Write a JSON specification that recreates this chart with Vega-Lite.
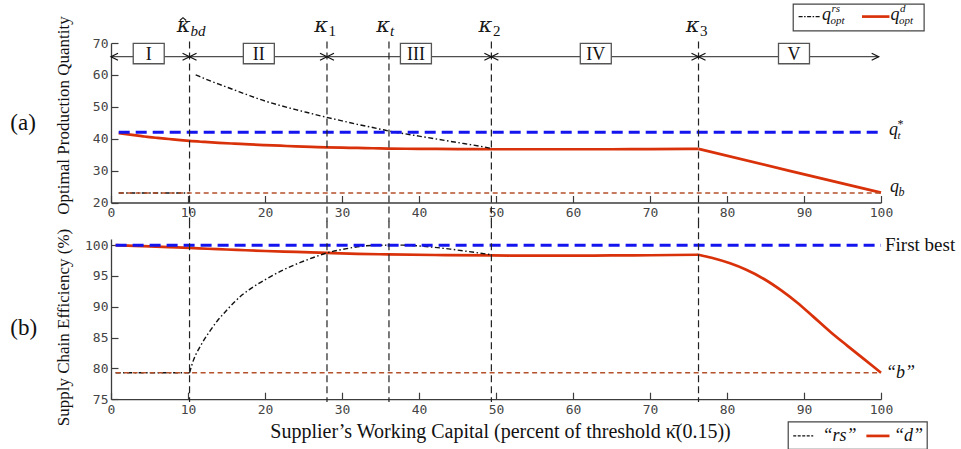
{
  "$schema": "https://vega.github.io/schema/vega-lite/v6.json",
  "autosize": {"type": "pad"},
  "padding": {"left": 10, "top": 2, "right": 0, "bottom": 0},
  "background": "white",
  "bounds": "flush",
  "spacing": 36,
  "datasets": {
    "curves": [
      {"panel": "a", "series": "d", "seg": 1, "x": 1, "y": 41.7},
      {"panel": "a", "series": "d", "seg": 1, "x": 2, "y": 41.4},
      {"panel": "a", "series": "d", "seg": 1, "x": 3, "y": 41.1},
      {"panel": "a", "series": "d", "seg": 1, "x": 4, "y": 40.8},
      {"panel": "a", "series": "d", "seg": 1, "x": 5, "y": 40.5},
      {"panel": "a", "series": "d", "seg": 1, "x": 6, "y": 40.25},
      {"panel": "a", "series": "d", "seg": 1, "x": 7.5, "y": 39.9},
      {"panel": "a", "series": "d", "seg": 1, "x": 9, "y": 39.55},
      {"panel": "a", "series": "d", "seg": 1, "x": 10.2, "y": 39.3},
      {"panel": "a", "series": "d", "seg": 1, "x": 12, "y": 39.0},
      {"panel": "a", "series": "d", "seg": 1, "x": 14, "y": 38.7},
      {"panel": "a", "series": "d", "seg": 1, "x": 16, "y": 38.45},
      {"panel": "a", "series": "d", "seg": 1, "x": 18, "y": 38.2},
      {"panel": "a", "series": "d", "seg": 1, "x": 20, "y": 38.0},
      {"panel": "a", "series": "d", "seg": 1, "x": 22, "y": 37.8},
      {"panel": "a", "series": "d", "seg": 1, "x": 24, "y": 37.6},
      {"panel": "a", "series": "d", "seg": 1, "x": 26, "y": 37.45},
      {"panel": "a", "series": "d", "seg": 1, "x": 28, "y": 37.3},
      {"panel": "a", "series": "d", "seg": 1, "x": 30, "y": 37.2},
      {"panel": "a", "series": "d", "seg": 1, "x": 32, "y": 37.1},
      {"panel": "a", "series": "d", "seg": 1, "x": 34, "y": 37.0},
      {"panel": "a", "series": "d", "seg": 1, "x": 36, "y": 36.9},
      {"panel": "a", "series": "d", "seg": 1, "x": 40, "y": 36.82},
      {"panel": "a", "series": "d", "seg": 1, "x": 45, "y": 36.74},
      {"panel": "a", "series": "d", "seg": 1, "x": 49.4, "y": 36.7},
      {"panel": "a", "series": "d", "seg": 1, "x": 55, "y": 36.69},
      {"panel": "a", "series": "d", "seg": 1, "x": 60, "y": 36.69},
      {"panel": "a", "series": "d", "seg": 1, "x": 65, "y": 36.7},
      {"panel": "a", "series": "d", "seg": 1, "x": 70, "y": 36.73},
      {"panel": "a", "series": "d", "seg": 1, "x": 76.3, "y": 36.8},
      {"panel": "a", "series": "d", "seg": 2, "x": 76.3, "y": 36.8},
      {"panel": "a", "series": "d", "seg": 2, "x": 88, "y": 30.0},
      {"panel": "a", "series": "d", "seg": 2, "x": 100, "y": 23.1},
      {"panel": "a", "series": "rs", "seg": 1, "x": 1, "y": 23},
      {"panel": "a", "series": "rs", "seg": 1, "x": 10.2, "y": 23},
      {"panel": "a", "series": "rs", "seg": 2, "x": 11, "y": 60},
      {"panel": "a", "series": "rs", "seg": 2, "x": 12, "y": 59.0},
      {"panel": "a", "series": "rs", "seg": 2, "x": 13, "y": 58.0},
      {"panel": "a", "series": "rs", "seg": 2, "x": 14, "y": 57.1},
      {"panel": "a", "series": "rs", "seg": 2, "x": 16, "y": 55.3},
      {"panel": "a", "series": "rs", "seg": 2, "x": 18, "y": 53.5},
      {"panel": "a", "series": "rs", "seg": 2, "x": 20, "y": 51.8},
      {"panel": "a", "series": "rs", "seg": 2, "x": 22, "y": 50.4},
      {"panel": "a", "series": "rs", "seg": 2, "x": 24, "y": 49.1},
      {"panel": "a", "series": "rs", "seg": 2, "x": 26, "y": 47.9},
      {"panel": "a", "series": "rs", "seg": 2, "x": 28, "y": 46.7},
      {"panel": "a", "series": "rs", "seg": 2, "x": 30, "y": 45.6},
      {"panel": "a", "series": "rs", "seg": 2, "x": 32, "y": 44.5},
      {"panel": "a", "series": "rs", "seg": 2, "x": 34, "y": 43.5},
      {"panel": "a", "series": "rs", "seg": 2, "x": 36.1, "y": 42.4},
      {"panel": "a", "series": "rs", "seg": 2, "x": 38, "y": 41.6},
      {"panel": "a", "series": "rs", "seg": 2, "x": 40, "y": 40.8},
      {"panel": "a", "series": "rs", "seg": 2, "x": 42, "y": 40.0},
      {"panel": "a", "series": "rs", "seg": 2, "x": 44, "y": 39.2},
      {"panel": "a", "series": "rs", "seg": 2, "x": 46, "y": 38.4},
      {"panel": "a", "series": "rs", "seg": 2, "x": 48, "y": 37.6},
      {"panel": "a", "series": "rs", "seg": 2, "x": 49.4, "y": 36.95},
      {"panel": "b", "series": "d", "seg": 1, "x": 0.6, "y": 100},
      {"panel": "b", "series": "d", "seg": 1, "x": 3, "y": 99.9},
      {"panel": "b", "series": "d", "seg": 1, "x": 5, "y": 99.8},
      {"panel": "b", "series": "d", "seg": 1, "x": 7.5, "y": 99.68},
      {"panel": "b", "series": "d", "seg": 1, "x": 10.2, "y": 99.56},
      {"panel": "b", "series": "d", "seg": 1, "x": 12.5, "y": 99.42},
      {"panel": "b", "series": "d", "seg": 1, "x": 15, "y": 99.3},
      {"panel": "b", "series": "d", "seg": 1, "x": 17.5, "y": 99.17},
      {"panel": "b", "series": "d", "seg": 1, "x": 20, "y": 99.05},
      {"panel": "b", "series": "d", "seg": 1, "x": 24, "y": 98.9},
      {"panel": "b", "series": "d", "seg": 1, "x": 28, "y": 98.75},
      {"panel": "b", "series": "d", "seg": 1, "x": 32, "y": 98.6},
      {"panel": "b", "series": "d", "seg": 1, "x": 36, "y": 98.5},
      {"panel": "b", "series": "d", "seg": 1, "x": 42, "y": 98.4},
      {"panel": "b", "series": "d", "seg": 1, "x": 49.4, "y": 98.33},
      {"panel": "b", "series": "d", "seg": 1, "x": 55, "y": 98.31},
      {"panel": "b", "series": "d", "seg": 1, "x": 60, "y": 98.31},
      {"panel": "b", "series": "d", "seg": 1, "x": 65, "y": 98.33},
      {"panel": "b", "series": "d", "seg": 1, "x": 70, "y": 98.36},
      {"panel": "b", "series": "d", "seg": 1, "x": 76.3, "y": 98.45},
      {"panel": "b", "series": "d", "seg": 2, "x": 76.3, "y": 98.45},
      {"panel": "b", "series": "d", "seg": 2, "x": 78, "y": 97.95},
      {"panel": "b", "series": "d", "seg": 2, "x": 80.4, "y": 97.05},
      {"panel": "b", "series": "d", "seg": 2, "x": 82.5, "y": 96.0},
      {"panel": "b", "series": "d", "seg": 2, "x": 84.75, "y": 94.55},
      {"panel": "b", "series": "d", "seg": 2, "x": 87, "y": 92.7},
      {"panel": "b", "series": "d", "seg": 2, "x": 89.1, "y": 90.7},
      {"panel": "b", "series": "d", "seg": 2, "x": 91.2, "y": 88.4},
      {"panel": "b", "series": "d", "seg": 2, "x": 93.4, "y": 85.95},
      {"panel": "b", "series": "d", "seg": 2, "x": 95.6, "y": 83.7},
      {"panel": "b", "series": "d", "seg": 2, "x": 97.8, "y": 81.5},
      {"panel": "b", "series": "d", "seg": 2, "x": 100, "y": 79.3},
      {"panel": "b", "series": "rs", "seg": 1, "x": 0.6, "y": 79.3},
      {"panel": "b", "series": "rs", "seg": 1, "x": 10.2, "y": 79.3},
      {"panel": "b", "series": "rs", "seg": 2, "x": 10.2, "y": 79.3},
      {"panel": "b", "series": "rs", "seg": 2, "x": 10.7, "y": 81.3},
      {"panel": "b", "series": "rs", "seg": 2, "x": 11.6, "y": 83.6},
      {"panel": "b", "series": "rs", "seg": 2, "x": 12.7, "y": 85.8},
      {"panel": "b", "series": "rs", "seg": 2, "x": 13.8, "y": 87.7},
      {"panel": "b", "series": "rs", "seg": 2, "x": 15, "y": 89.4},
      {"panel": "b", "series": "rs", "seg": 2, "x": 15.9, "y": 90.6},
      {"panel": "b", "series": "rs", "seg": 2, "x": 17, "y": 91.9},
      {"panel": "b", "series": "rs", "seg": 2, "x": 18.1, "y": 92.9},
      {"panel": "b", "series": "rs", "seg": 2, "x": 19.2, "y": 93.8},
      {"panel": "b", "series": "rs", "seg": 2, "x": 20.3, "y": 94.6},
      {"panel": "b", "series": "rs", "seg": 2, "x": 22.4, "y": 96.0},
      {"panel": "b", "series": "rs", "seg": 2, "x": 24.6, "y": 97.2},
      {"panel": "b", "series": "rs", "seg": 2, "x": 26.3, "y": 98.0},
      {"panel": "b", "series": "rs", "seg": 2, "x": 28.05, "y": 98.75},
      {"panel": "b", "series": "rs", "seg": 2, "x": 30, "y": 99.3},
      {"panel": "b", "series": "rs", "seg": 2, "x": 31.1, "y": 99.55},
      {"panel": "b", "series": "rs", "seg": 2, "x": 33.2, "y": 99.9},
      {"panel": "b", "series": "rs", "seg": 2, "x": 36.1, "y": 100.0},
      {"panel": "b", "series": "rs", "seg": 2, "x": 38, "y": 100.0},
      {"panel": "b", "series": "rs", "seg": 2, "x": 39.7, "y": 99.9},
      {"panel": "b", "series": "rs", "seg": 2, "x": 42, "y": 99.65},
      {"panel": "b", "series": "rs", "seg": 2, "x": 44.1, "y": 99.35},
      {"panel": "b", "series": "rs", "seg": 2, "x": 46.5, "y": 98.95},
      {"panel": "b", "series": "rs", "seg": 2, "x": 49.4, "y": 98.45}
    ],
    "levels": [
      {"panel": "a", "kind": "best", "level": 42, "from": 1, "to": 100},
      {"panel": "a", "kind": "base", "level": 23, "from": 1, "to": 100},
      {"panel": "b", "kind": "best", "level": 100, "from": 0.6, "to": 100},
      {"panel": "b", "kind": "base", "level": 79.3, "from": 0.6, "to": 100}
    ],
    "kappas": [
      {"k": 10.2, "sub": "bd"},
      {"k": 28.05, "sub": "1"},
      {"k": 36.1, "sub": "t"},
      {"k": 49.4, "sub": "2"},
      {"k": 76.3, "sub": "3"}
    ],
    "regions": [
      {"region": "I", "from": 0, "to": 10.2, "mid": 4.9},
      {"region": "II", "from": 10.2, "to": 28.05, "mid": 19.2},
      {"region": "III", "from": 28.05, "to": 49.4, "mid": 39.6},
      {"region": "IV", "from": 49.4, "to": 76.3, "mid": 62.96},
      {"region": "V", "from": 76.3, "to": 99.7, "mid": 88.7}
    ],
    "one": [{}]
  },
  "vconcat": [
    {
      "width": 770,
      "height": 159.5,
      "layer": [
        {
          "data": {"name": "curves"},
          "transform": [{"filter": "datum.panel === 'a' && datum.series === 'd'"}],
          "mark": {"type": "line", "color": "#d9320b", "strokeWidth": 2.7, "interpolate": "monotone"},
          "encoding": {
            "x": {"field": "x", "type": "quantitative", "scale": {"domain": [0, 100], "nice": false},
                  "axis": {"values": [0, 10, 20, 30, 40, 50, 60, 70, 80, 90, 100], "tickCount": 20, "title": null, "labelOverlap": false}},
            "y": {"field": "y", "type": "quantitative", "scale": {"domain": [20, 70], "nice": false, "zero": false},
                  "axis": {"values": [20, 30, 40, 50, 60, 70], "tickCount": 20, "labelOverlap": false, "title": "Optimal Production Quantity",
                           "titleX": -43, "titleY": 72, "titleBaseline": "alphabetic"}},
            "detail": {"field": "seg"}
          }
        },
        {
          "data": {"name": "curves"},
          "transform": [{"filter": "datum.panel === 'a' && datum.series === 'rs'"}],
          "mark": {"type": "line", "color": "#111111", "strokeWidth": 1.4, "strokeDash": [5, 2.5, 1.5, 2.5], "interpolate": "monotone"},
          "encoding": {
            "x": {"field": "x", "type": "quantitative"},
            "y": {"field": "y", "type": "quantitative"},
            "detail": {"field": "seg"}
          }
        },
        {
          "data": {"name": "levels"},
          "transform": [{"filter": "datum.panel === 'a' && datum.kind === 'best'"}],
          "mark": {"type": "rule", "color": "#1414ee", "strokeWidth": 3, "strokeDash": [11, 6]},
          "encoding": {
            "x": {"field": "from", "type": "quantitative"},
            "x2": {"field": "to"},
            "y": {"field": "level", "type": "quantitative"}
          }
        },
        {
          "data": {"name": "levels"},
          "transform": [{"filter": "datum.panel === 'a' && datum.kind === 'base'"}],
          "mark": {"type": "rule", "color": "#b4502a", "strokeWidth": 1.4, "strokeDash": [5, 3.5]},
          "encoding": {
            "x": {"field": "from", "type": "quantitative"},
            "x2": {"field": "to"},
            "y": {"field": "level", "type": "quantitative"}
          }
        },
        {
          "data": {"name": "kappas"},
          "mark": {"type": "rule", "color": "#222222", "strokeWidth": 1.2, "strokeDash": [7, 4]},
          "encoding": {
            "x": {"field": "k", "type": "quantitative"},
            "y": {"datum": 70.44, "type": "quantitative"},
            "y2": {"datum": 14.0}
          }
        },
        {
          "data": {"name": "regions"},
          "mark": {"type": "rule", "color": "#222222", "strokeWidth": 1},
          "encoding": {
            "x": {"field": "from", "type": "quantitative"},
            "x2": {"field": "to"},
            "y": {"datum": 65.7, "type": "quantitative"}
          }
        },
        {
          "data": {"name": "regions"},
          "mark": {"type": "point", "shape": "M2,-1L0,0L2,1", "filled": false, "size": 49, "stroke": "#111111", "strokeWidth": 1.2, "opacity": 1},
          "encoding": {
            "x": {"field": "from", "type": "quantitative"},
            "y": {"datum": 65.7, "type": "quantitative"}
          }
        },
        {
          "data": {"name": "regions"},
          "mark": {"type": "point", "shape": "M-2,-1L0,0L-2,1", "filled": false, "size": 49, "stroke": "#111111", "strokeWidth": 1.2, "opacity": 1},
          "encoding": {
            "x": {"field": "to", "type": "quantitative"},
            "y": {"datum": 65.7, "type": "quantitative"}
          }
        },
        {
          "data": {"name": "regions"},
          "mark": {"type": "point", "shape": "M-1,-0.66L1,-0.66L1,0.66L-1,0.66Z", "filled": true, "fill": "white", "stroke": "#555555", "strokeWidth": 1.3, "size": 961, "opacity": 1},
          "encoding": {
            "x": {"field": "mid", "type": "quantitative"},
            "y": {"datum": 66.7, "type": "quantitative"}
          }
        },
        {
          "data": {"name": "regions"},
          "mark": {"type": "text", "font": "Liberation Serif", "fontSize": 18, "baseline": "middle", "align": "center", "color": "#111111", "dy": 1},
          "encoding": {
            "x": {"field": "mid", "type": "quantitative"},
            "y": {"datum": 66.7, "type": "quantitative"},
            "text": {"field": "region"}
          }
        },
        {
          "data": {"name": "kappas"},
          "mark": {"type": "text", "text": "κ", "font": "DejaVu Serif", "fontStyle": "italic", "fontSize": 21, "align": "right", "baseline": "alphabetic", "dx": 1, "color": "#1a1a1a"},
          "encoding": {
            "x": {"field": "k", "type": "quantitative"},
            "y": {"datum": 73.35, "type": "quantitative"}
          }
        },
        {
          "data": {"name": "one"},
          "mark": {"type": "point", "shape": "M-1,0.45L0,-0.45L1,0.45", "filled": false, "size": 40, "stroke": "#111111", "strokeWidth": 1.1, "opacity": 1},
          "encoding": {
            "x": {"datum": 9.35, "type": "quantitative"},
            "y": {"datum": 77.5, "type": "quantitative"}
          }
        },
        {
          "data": {"name": "kappas"},
          "transform": [{"filter": "isNaN(toNumber(datum.sub))"}],
          "mark": {"type": "text", "font": "Liberation Serif", "fontStyle": "italic", "fontSize": 15, "align": "left", "baseline": "alphabetic", "dx": 1, "dy": 3.6, "color": "#111111"},
          "encoding": {
            "x": {"field": "k", "type": "quantitative"},
            "y": {"datum": 73.35, "type": "quantitative"},
            "text": {"field": "sub"}
          }
        },
        {
          "data": {"name": "kappas"},
          "transform": [{"filter": "!isNaN(toNumber(datum.sub))"}],
          "mark": {"type": "text", "font": "Liberation Serif", "fontSize": 15, "align": "left", "baseline": "alphabetic", "dx": 1.5, "dy": 3.6, "color": "#111111"},
          "encoding": {
            "x": {"field": "k", "type": "quantitative"},
            "y": {"datum": 73.35, "type": "quantitative"},
            "text": {"field": "sub"}
          }
        },
        {
          "data": {"name": "one"},
          "mark": {"type": "text", "text": "q", "font": "Liberation Serif", "fontStyle": "italic", "fontSize": 18, "align": "left", "baseline": "alphabetic", "dx": 8, "color": "#111111"},
          "encoding": {"x": {"datum": 100, "type": "quantitative"}, "y": {"datum": 41.3, "type": "quantitative"}}
        },
        {
          "data": {"name": "one"},
          "mark": {"type": "text", "text": "t", "font": "Liberation Serif", "fontStyle": "italic", "fontSize": 11, "align": "left", "baseline": "alphabetic", "dx": 16.5, "dy": 4.5, "color": "#111111"},
          "encoding": {"x": {"datum": 100, "type": "quantitative"}, "y": {"datum": 41.3, "type": "quantitative"}}
        },
        {
          "data": {"name": "one"},
          "mark": {"type": "text", "text": "*", "font": "Liberation Serif", "fontSize": 12, "align": "left", "baseline": "alphabetic", "dx": 16.5, "dy": -7, "color": "#111111"},
          "encoding": {"x": {"datum": 100, "type": "quantitative"}, "y": {"datum": 41.3, "type": "quantitative"}}
        },
        {
          "data": {"name": "one"},
          "mark": {"type": "text", "text": "q", "font": "Liberation Serif", "fontStyle": "italic", "fontSize": 18, "align": "left", "baseline": "alphabetic", "dx": 9, "color": "#111111"},
          "encoding": {"x": {"datum": 100, "type": "quantitative"}, "y": {"datum": 23.4, "type": "quantitative"}}
        },
        {
          "data": {"name": "one"},
          "mark": {"type": "text", "text": "b", "font": "Liberation Serif", "fontStyle": "italic", "fontSize": 12, "align": "left", "baseline": "alphabetic", "dx": 17.5, "dy": 4, "color": "#111111"},
          "encoding": {"x": {"datum": 100, "type": "quantitative"}, "y": {"datum": 23.4, "type": "quantitative"}}
        },
        {
          "data": {"name": "one"},
          "mark": {"type": "text", "text": "(a)", "font": "Liberation Serif", "fontSize": 23, "align": "left", "baseline": "middle", "color": "#111111"},
          "encoding": {"x": {"datum": -13.08, "type": "quantitative"}, "y": {"datum": 45.05, "type": "quantitative"}}
        },
        {
          "data": {"name": "one"},
          "mark": {"type": "rect", "fill": "white", "stroke": "#444444", "strokeWidth": 1.2},
          "encoding": {
            "x": {"datum": 88.6, "type": "quantitative"}, "x2": {"datum": 105.6},
            "y": {"datum": 73.79, "type": "quantitative"}, "y2": {"datum": 82.19}
          }
        },
        {
          "data": {"name": "one"},
          "mark": {"type": "rule", "color": "#111111", "strokeWidth": 1.4, "strokeDash": [4, 1.5, 1.5, 1.5]},
          "encoding": {
            "x": {"datum": 89.3, "type": "quantitative"}, "x2": {"datum": 92.2},
            "y": {"datum": 78.28, "type": "quantitative"}
          }
        },
        {
          "data": {"name": "one"},
          "mark": {"type": "rule", "color": "#d9320b", "strokeWidth": 2.7},
          "encoding": {
            "x": {"datum": 97.53, "type": "quantitative"}, "x2": {"datum": 101.1},
            "y": {"datum": 78.28, "type": "quantitative"}
          }
        },
        {
          "data": {"name": "one"},
          "mark": {"type": "text", "text": "q", "font": "Liberation Serif", "fontStyle": "italic", "fontSize": 18, "align": "left", "baseline": "alphabetic", "color": "#111111"},
          "encoding": {"x": {"datum": 92.34, "type": "quantitative"}, "y": {"datum": 77.24, "type": "quantitative"}}
        },
        {
          "data": {"name": "one"},
          "mark": {"type": "text", "text": "rs", "font": "Liberation Serif", "fontStyle": "italic", "fontSize": 11, "align": "left", "baseline": "alphabetic", "dx": 9.5, "dy": -8, "color": "#111111"},
          "encoding": {"x": {"datum": 92.34, "type": "quantitative"}, "y": {"datum": 77.24, "type": "quantitative"}}
        },
        {
          "data": {"name": "one"},
          "mark": {"type": "text", "text": "opt", "font": "Liberation Serif", "fontStyle": "italic", "fontSize": 11, "align": "left", "baseline": "alphabetic", "dx": 8.5, "dy": 4, "color": "#111111"},
          "encoding": {"x": {"datum": 92.34, "type": "quantitative"}, "y": {"datum": 77.24, "type": "quantitative"}}
        },
        {
          "data": {"name": "one"},
          "mark": {"type": "text", "text": "q", "font": "Liberation Serif", "fontStyle": "italic", "fontSize": 18, "align": "left", "baseline": "alphabetic", "color": "#111111"},
          "encoding": {"x": {"datum": 101.23, "type": "quantitative"}, "y": {"datum": 77.24, "type": "quantitative"}}
        },
        {
          "data": {"name": "one"},
          "mark": {"type": "text", "text": "d", "font": "Liberation Serif", "fontStyle": "italic", "fontSize": 11, "align": "left", "baseline": "alphabetic", "dx": 9.5, "dy": -8, "color": "#111111"},
          "encoding": {"x": {"datum": 101.23, "type": "quantitative"}, "y": {"datum": 77.24, "type": "quantitative"}}
        },
        {
          "data": {"name": "one"},
          "mark": {"type": "text", "text": "opt", "font": "Liberation Serif", "fontStyle": "italic", "fontSize": 11, "align": "left", "baseline": "alphabetic", "dx": 8.5, "dy": 4, "color": "#111111"},
          "encoding": {"x": {"datum": 101.23, "type": "quantitative"}, "y": {"datum": 77.24, "type": "quantitative"}}
        }
      ]
    },
    {
      "width": 770,
      "height": 160.2,
      "layer": [
        {
          "data": {"name": "curves"},
          "transform": [{"filter": "datum.panel === 'b' && datum.series === 'd'"}],
          "mark": {"type": "line", "color": "#d9320b", "strokeWidth": 2.7, "interpolate": "monotone"},
          "encoding": {
            "x": {"field": "x", "type": "quantitative", "scale": {"domain": [0, 100], "nice": false},
                  "axis": {"values": [0, 10, 20, 30, 40, 50, 60, 70, 80, 90, 100], "tickCount": 20, "labelOverlap": false,
                           "title": "Supplier’s Working Capital (percent of threshold κ̄(0.15))",
                           "titleX": 389, "titleY": 38.7, "titleBaseline": "alphabetic", "titleAlign": "center", "titleFontSize": 20}},
            "y": {"field": "y", "type": "quantitative", "scale": {"domain": [75, 101], "nice": false, "zero": false},
                  "axis": {"values": [75, 80, 85, 90, 95, 100], "tickCount": 20, "labelOverlap": false, "title": "Supply Chain Efficiency (%)",
                           "titleX": -43, "titleY": 88, "titleBaseline": "alphabetic"}},
            "detail": {"field": "seg"}
          }
        },
        {
          "data": {"name": "curves"},
          "transform": [{"filter": "datum.panel === 'b' && datum.series === 'rs'"}],
          "mark": {"type": "line", "color": "#111111", "strokeWidth": 1.4, "strokeDash": [5, 2.5, 1.5, 2.5], "interpolate": "monotone"},
          "encoding": {
            "x": {"field": "x", "type": "quantitative"},
            "y": {"field": "y", "type": "quantitative"},
            "detail": {"field": "seg"}
          }
        },
        {
          "data": {"name": "levels"},
          "transform": [{"filter": "datum.panel === 'b' && datum.kind === 'best'"}],
          "mark": {"type": "rule", "color": "#1414ee", "strokeWidth": 3, "strokeDash": [11, 6]},
          "encoding": {
            "x": {"field": "from", "type": "quantitative"},
            "x2": {"field": "to"},
            "y": {"field": "level", "type": "quantitative"}
          }
        },
        {
          "data": {"name": "levels"},
          "transform": [{"filter": "datum.panel === 'b' && datum.kind === 'base'"}],
          "mark": {"type": "rule", "color": "#b4502a", "strokeWidth": 1.4, "strokeDash": [5, 3.5]},
          "encoding": {
            "x": {"field": "from", "type": "quantitative"},
            "x2": {"field": "to"},
            "y": {"field": "level", "type": "quantitative"}
          }
        },
        {
          "data": {"name": "kappas"},
          "mark": {"type": "rule", "color": "#222222", "strokeWidth": 1.2, "strokeDash": [7, 4]},
          "encoding": {
            "x": {"field": "k", "type": "quantitative"},
            "y": {"datum": 103.9, "type": "quantitative"},
            "y2": {"datum": 74.56}
          }
        },
        {
          "data": {"name": "one"},
          "mark": {"type": "text", "text": "First best", "font": "Liberation Serif", "fontSize": 19, "align": "left", "baseline": "middle", "dx": 4, "color": "#111111"},
          "encoding": {"x": {"datum": 100, "type": "quantitative"}, "y": {"datum": 100, "type": "quantitative"}}
        },
        {
          "data": {"name": "one"},
          "mark": {"type": "text", "text": "“b”", "font": "Liberation Serif", "fontStyle": "italic", "fontSize": 18, "align": "left", "baseline": "middle", "dx": 5, "color": "#111111"},
          "encoding": {"x": {"datum": 100, "type": "quantitative"}, "y": {"datum": 79.3, "type": "quantitative"}}
        },
        {
          "data": {"name": "one"},
          "mark": {"type": "text", "text": "(b)", "font": "Liberation Serif", "fontSize": 23, "align": "left", "baseline": "middle", "color": "#111111"},
          "encoding": {"x": {"datum": -13.08, "type": "quantitative"}, "y": {"datum": 86.6, "type": "quantitative"}}
        },
        {
          "data": {"name": "one"},
          "mark": {"type": "rect", "fill": "white", "stroke": "#444444", "strokeWidth": 1.2},
          "encoding": {
            "x": {"datum": 87.95, "type": "quantitative"}, "x2": {"datum": 106.0},
            "y": {"datum": 66.85, "type": "quantitative"}, "y2": {"datum": 71.31}
          }
        },
        {
          "data": {"name": "one"},
          "mark": {"type": "rule", "color": "#111111", "strokeWidth": 1.4, "strokeDash": [3, 1.5]},
          "encoding": {
            "x": {"datum": 88.6, "type": "quantitative"}, "x2": {"datum": 91.2},
            "y": {"datum": 69.04, "type": "quantitative"}
          }
        },
        {
          "data": {"name": "one"},
          "mark": {"type": "text", "text": "“rs”", "font": "Liberation Serif", "fontStyle": "italic", "fontSize": 18, "align": "left", "baseline": "middle", "color": "#111111"},
          "encoding": {"x": {"datum": 92.4, "type": "quantitative"}, "y": {"datum": 69.04, "type": "quantitative"}}
        },
        {
          "data": {"name": "one"},
          "mark": {"type": "rule", "color": "#d9320b", "strokeWidth": 2.7},
          "encoding": {
            "x": {"datum": 98.1, "type": "quantitative"}, "x2": {"datum": 101.1},
            "y": {"datum": 69.04, "type": "quantitative"}
          }
        },
        {
          "data": {"name": "one"},
          "mark": {"type": "text", "text": "“d”", "font": "Liberation Serif", "fontStyle": "italic", "fontSize": 18, "align": "left", "baseline": "middle", "color": "#111111"},
          "encoding": {"x": {"datum": 101.7, "type": "quantitative"}, "y": {"datum": 69.04, "type": "quantitative"}}
        }
      ]
    }
  ],
  "config": {
    "view": {"stroke": null},
    "axis": {
      "domainColor": "#3c3c3c", "domainWidth": 1.3,
      "tickColor": "#3c3c3c", "tickWidth": 1.2, "tickSize": -7,
      "labelFont": "DejaVu Sans Mono", "labelFontSize": 13, "labelColor": "#444444",
      "labelFlush": false, "labelOverlap": false, "grid": false,
      "titleFont": "Liberation Serif", "titleFontWeight": "normal", "titleColor": "#111111", "titleFontSize": 17
    },
    "axisX": {"labelPadding": 11},
    "axisY": {"labelPadding": 10}
  }
}
